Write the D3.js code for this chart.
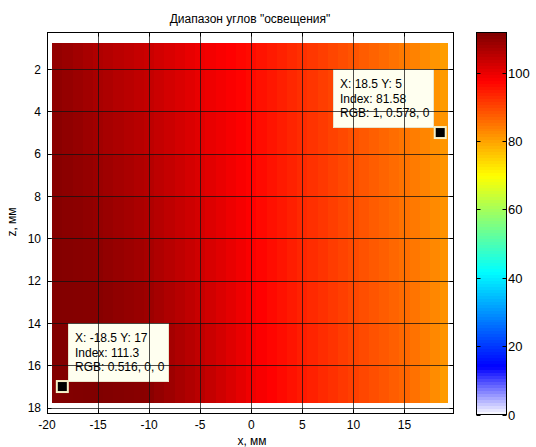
<!DOCTYPE html>
<html lang="ru">
<head>
<meta charset="UTF-8">
<title>Диапазон углов освещения</title>
<script src="https://d3js.org/d3.v7.min.js"></script>
<style>
  body { margin: 0; background: #fff; }
  text { font-family: "Liberation Sans", Arial, sans-serif; fill: #000; }
</style>
</head>
<body>
<svg id="chart" width="536" height="447"></svg>
<script>
// x positions of the columns (mm) and z positions of the rows (mm)
var xCols = d3.range(-19, 20, 1);
var zRows = [1, 3, 5, 7, 9, 11, 13, 15, 17];

// image extent inside the axes (mm)
var imgX = [-19.5, 19.25];
var imgZ = [0.75, 17.75];

// angle range values, one row per z, left to right along x
var angleRows = [
  [109.5,108.8,108.0,107.3,106.5,105.9,105.3,104.7,104.1,103.5,102.7,101.9,101.1,100.3,99.5,98.9,98.3,97.7,97.1,96.5,95.7,94.9,94.1,93.3,92.5,91.7,90.9,90.1,89.3,88.5,87.7,86.9,86.1,85.3,84.5,83.5,82.5,81.5,80.5],
  [110.0,109.3,108.7,108.0,107.3,106.7,106.0,105.4,104.8,104.2,103.4,102.6,101.8,101.0,100.2,99.5,98.8,98.2,97.5,96.8,96.0,95.2,94.3,93.5,92.7,91.9,91.1,90.3,89.5,88.7,87.9,87.1,86.3,85.5,84.7,83.7,82.8,81.8,80.8],
  [110.5,109.9,109.3,108.6,108.0,107.4,106.8,106.2,105.6,105.0,104.2,103.4,102.6,101.8,101.0,100.2,99.5,98.7,98.0,97.2,96.4,95.5,94.7,93.8,93.0,92.2,91.4,90.5,89.7,88.9,88.1,87.3,86.6,85.8,85.0,84.1,83.2,82.2,81.3],
  [110.8,110.3,109.8,109.3,108.8,108.2,107.6,107.0,106.4,105.8,105.0,104.2,103.3,102.5,101.7,100.9,100.0,99.2,98.3,97.5,96.6,95.8,94.9,94.1,93.2,92.4,91.6,90.7,89.9,89.1,88.3,87.5,86.8,86.0,85.2,84.3,83.4,82.4,81.5],
  [111.0,110.6,110.3,109.9,109.5,108.9,108.3,107.7,107.1,106.5,105.7,104.9,104.0,103.2,102.4,101.5,100.6,99.6,98.7,97.8,96.9,96.0,95.2,94.3,93.4,92.6,91.8,90.9,90.1,89.3,88.5,87.7,87.0,86.2,85.4,84.5,83.6,82.6,81.7],
  [111.2,111.0,110.8,110.5,110.3,109.7,109.1,108.6,108.0,107.4,106.5,105.6,104.8,103.9,103.0,102.0,101.1,100.1,99.2,98.2,97.3,96.4,95.5,94.6,93.7,92.9,92.1,91.2,90.4,89.6,88.8,88.0,87.3,86.5,85.7,84.7,83.8,82.8,81.8],
  [111.3,111.2,111.1,111.0,110.9,110.4,109.9,109.5,109.0,108.5,107.6,106.6,105.7,104.7,103.8,102.8,101.7,100.7,99.6,98.6,97.7,96.8,95.9,95.0,94.1,93.3,92.5,91.6,90.8,90.0,89.2,88.4,87.7,86.9,86.1,85.0,83.9,82.9,81.8],
  [111.4,111.4,111.4,111.3,111.3,111.0,110.6,110.3,109.9,109.6,108.6,107.6,106.6,105.6,104.6,103.5,102.4,101.2,100.1,99.0,98.1,97.2,96.4,95.5,94.6,93.8,92.9,92.1,91.2,90.4,89.6,88.8,88.1,87.3,86.5,85.3,84.0,82.8,81.5],
  [111.3,111.4,111.5,111.6,111.6,111.4,111.2,111.0,110.8,110.5,109.5,108.5,107.4,106.4,105.4,104.2,103.0,101.8,100.6,99.4,98.5,97.6,96.8,95.9,95.0,94.2,93.3,92.5,91.6,90.8,90.0,89.2,88.4,87.6,86.8,85.4,84.0,82.4,80.8]
];

var colorRange = [0, 111.7];
var xTicks = [-20, -15, -10, -5, 0, 5, 10, 15];
var zTicks = [2, 4, 6, 8, 10, 12, 14, 16, 18];
var cbTicks = [0, 20, 40, 60, 80, 100];

// data tips
var tips = [
  { x: 18.5, z: 5, lines: ["X: 18.5 Y: 5", "Index: 81.58", "RGB: 1, 0.578, 0"], side: "left" },
  { x: -18.5, z: 17, lines: ["X: -18.5 Y: 17", "Index: 111.3", "RGB: 0.516, 0, 0"], side: "right" }
];

var svg = d3.select("#chart");

var x = d3.scaleLinear().domain([-20, 19.75]).range([47, 453]);
var y = d3.scaleLinear().domain([0.25, 18.25]).range([32, 413]);

// jet-like colormap, low end fading to white
function cmap(v) {
  var t = Math.max(0, Math.min(1, (v - colorRange[0]) / (colorRange[1] - colorRange[0])));
  var r, g, b;
  if (t < 1 / 8) { var s = t * 8; r = 1 - s; g = 1 - s; b = 1; }
  else if (t < 3 / 8) { r = 0; g = (t - 1 / 8) * 4; b = 1; }
  else if (t < 5 / 8) { r = (t - 3 / 8) * 4; g = 1; b = 1 - (t - 3 / 8) * 4; }
  else if (t < 7 / 8) { r = 1; g = 1 - (t - 5 / 8) * 4; b = 0; }
  else { r = 1 - (t - 7 / 8) * 4; g = 0; b = 0; }
  return d3.rgb(r * 255, g * 255, b * 255).toString();
}

function edges(centers, ext) {
  var e = [ext[0]];
  for (var i = 1; i < centers.length; i++) e.push((centers[i - 1] + centers[i]) / 2);
  e.push(ext[1]);
  return e;
}
var xe = edges(xCols, imgX);
var ze = edges(zRows, imgZ);

var cells = [];
angleRows.forEach(function (row, i) {
  row.forEach(function (v, j) {
    cells.push({ x0: xe[j], x1: xe[j + 1], z0: ze[i], z1: ze[i + 1], v: v });
  });
});

// axes background
svg.append("rect")
  .attr("x", x(-20)).attr("y", y(0.25))
  .attr("width", x(19.75) - x(-20)).attr("height", y(18.25) - y(0.25))
  .attr("fill", "#fff");

svg.append("g").attr("shape-rendering", "crispEdges")
  .selectAll("rect").data(cells).enter().append("rect")
  .attr("x", function (d) { return x(d.x0); })
  .attr("y", function (d) { return y(d.z0); })
  .attr("width", function (d) { return x(d.x1) - x(d.x0) + 0.5; })
  .attr("height", function (d) { return y(d.z1) - y(d.z0) + 0.5; })
  .attr("fill", function (d) { return cmap(d.v); });

// data tips
var tipG = svg.append("g");
tips.forEach(function (d) {
  var mx = x(d.x), my = y(d.z);
  var bw = 100, bh = 58;
  var bx = d.side === "left" ? mx - 7 - bw : mx + 6;
  var by = my - 6 - bh;
  tipG.append("rect")
    .attr("x", Math.round(bx) + 0.5).attr("y", Math.round(by) + 0.5)
    .attr("width", bw).attr("height", bh)
    .attr("fill", "#fffff0").attr("stroke", "#e8e4cc").attr("stroke-width", 1);
  d.lines.forEach(function (s, k) {
    tipG.append("text")
      .attr("x", Math.round(bx) + 7).attr("y", Math.round(by) + 19 + k * 14.7)
      .attr("font-size", "12px").text(s);
  });
  tipG.append("rect")
    .attr("x", mx - 5.5).attr("y", my - 5.5).attr("width", 11).attr("height", 11)
    .attr("fill", "#000").attr("stroke", "#f5f0c8").attr("stroke-width", 2);
});

// grid lines
var grid = svg.append("g").attr("stroke", "#111").attr("stroke-opacity", 0.75).attr("stroke-width", 1);
xTicks.forEach(function (t) {
  var px = Math.round(x(t)) + 0.5;
  grid.append("line").attr("x1", px).attr("x2", px).attr("y1", y(0.25)).attr("y2", y(18.25));
});
zTicks.forEach(function (t) {
  var py = Math.round(y(t)) + 0.5;
  grid.append("line").attr("x1", x(-20)).attr("x2", x(19.75)).attr("y1", py).attr("y2", py);
});

// axes frame with inner ticks on all sides
var x0 = Math.round(x(-20)) + 0.5, x1 = Math.round(x(19.75)) + 0.5;
var y0 = Math.round(y(0.25)) + 0.5, y1 = Math.round(y(18.25)) + 0.5;
var frame = svg.append("g").attr("stroke", "#000").attr("stroke-width", 1).attr("fill", "none");
frame.append("rect").attr("x", x0).attr("y", y0).attr("width", x1 - x0).attr("height", y1 - y0);
xTicks.forEach(function (t) {
  var px = Math.round(x(t)) + 0.5;
  frame.append("line").attr("x1", px).attr("x2", px).attr("y1", y1).attr("y2", y1 - 4);
  frame.append("line").attr("x1", px).attr("x2", px).attr("y1", y0).attr("y2", y0 + 4);
  svg.append("text").attr("x", x(t)).attr("y", 429).attr("text-anchor", "middle")
    .attr("font-size", "12px").text(t);
});
zTicks.forEach(function (t) {
  var py = Math.round(y(t)) + 0.5;
  frame.append("line").attr("x1", x0).attr("x2", x0 + 4).attr("y1", py).attr("y2", py);
  frame.append("line").attr("x1", x1).attr("x2", x1 - 4).attr("y1", py).attr("y2", py);
  svg.append("text").attr("x", 41).attr("y", y(t) + 4.5).attr("text-anchor", "end")
    .attr("font-size", "12px").text(t);
});

// title and axis labels
svg.append("text").attr("x", 250).attr("y", 23).attr("text-anchor", "middle")
  .attr("font-size", "12px").text("Диапазон углов \"освещения\"");
svg.append("text").attr("x", 252).attr("y", 445).attr("text-anchor", "middle")
  .attr("font-size", "12px").text("x, мм");
svg.append("text").attr("transform", "translate(16,222) rotate(-90)").attr("text-anchor", "middle")
  .attr("font-size", "12px").text("z, мм");

// colorbar
var cb = d3.scaleLinear().domain(colorRange).range([414.5, 32.5]);
var cbX0 = 476, cbX1 = 506;
var bands = d3.range(0, 128);
var step = (colorRange[1] - colorRange[0]) / bands.length;
svg.append("g").attr("shape-rendering", "crispEdges")
  .selectAll("rect").data(bands).enter().append("rect")
  .attr("x", cbX0).attr("width", cbX1 - cbX0)
  .attr("y", function (i) { return cb(colorRange[0] + (i + 1) * step); })
  .attr("height", function (i) { return cb(colorRange[0] + i * step) - cb(colorRange[0] + (i + 1) * step) + 0.5; })
  .attr("fill", function (i) { return cmap(colorRange[0] + (i + 0.5) * step); });
var cbf = svg.append("g").attr("stroke", "#000").attr("stroke-width", 1).attr("fill", "none");
cbf.append("rect").attr("x", cbX0 + 0.5).attr("y", 32.5).attr("width", cbX1 - cbX0).attr("height", 382);
cbTicks.forEach(function (t) {
  var py = Math.round(cb(t)) + 0.5;
  cbf.append("line").attr("x1", cbX0 + 0.5).attr("x2", cbX0 + 4.5).attr("y1", py).attr("y2", py);
  cbf.append("line").attr("x1", cbX1 + 0.5).attr("x2", cbX1 - 3.5).attr("y1", py).attr("y2", py);
  svg.append("text").attr("x", cbX1 + 2).attr("y", cb(t) + 5).attr("font-size", "13px").text(t);
});
</script>
</body>
</html>
